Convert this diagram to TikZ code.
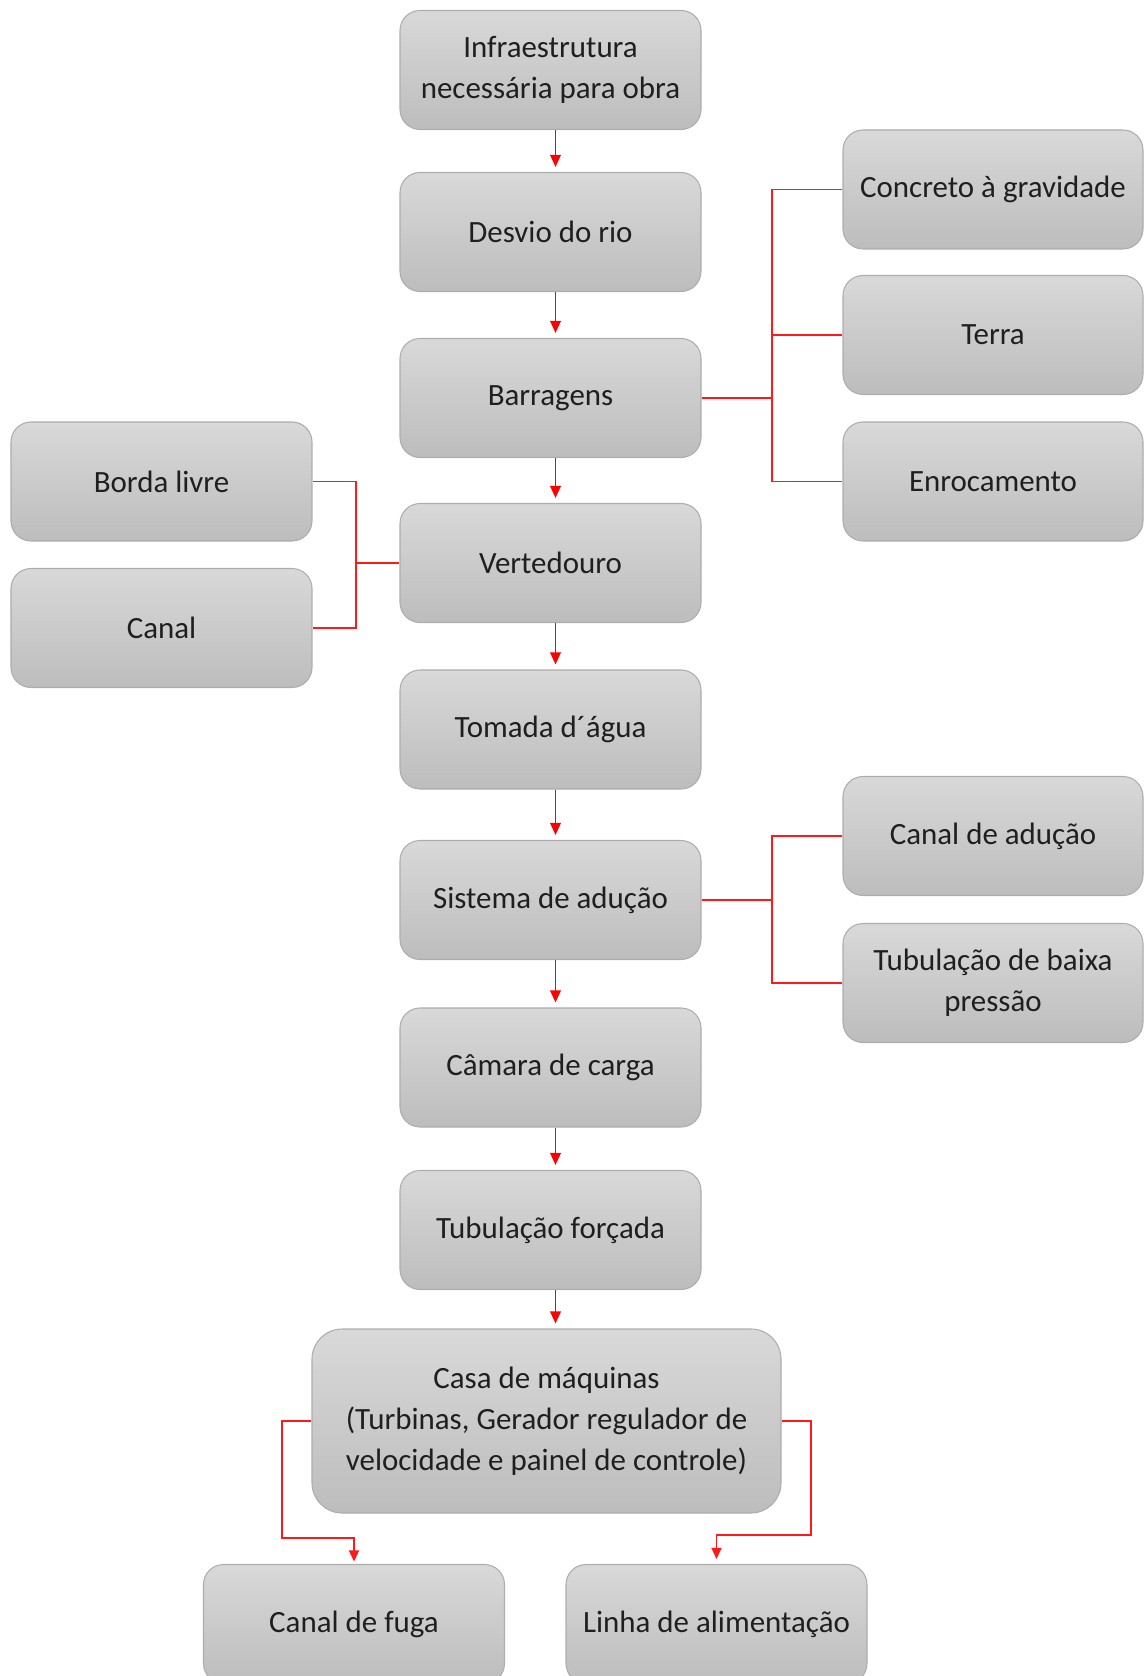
\documentclass[tikz,border=0pt]{standalone}
\usepackage{fontspec}
\setmainfont{Carlito}
\usetikzlibrary{arrows.meta,positioning}

\begin{document}
\begin{tikzpicture}[x=1cm,y=1cm,
    every node/.style={font=\fontsize{17.6}{23.3}\selectfont,text=black!88},
    box/.style={draw=black!32,line width=0.6pt,rounded corners=0.4cm,
      top color=black!15,bottom color=black!26,align=center,
      minimum width=6.02cm,minimum height=2.38cm},
    flow/.style={-{Triangle[length=2.4mm,width=2.1mm]},line width=1.1pt,red,shorten >=0.1cm},
    branch/.style={red!90,line width=0.75pt}]
  \useasboundingbox (0,0) rectangle (22.9,-33.52);

  % Main column
  \node[box] (infra) at (11.01,-1.40) {Infraestrutura\\necessária para obra};
  \node[box] (desvio) at (11.01,-4.64) {Desvio do rio};
  \node[box] (barragens) at (11.01,-7.96) {Barragens};
  \node[box] (vertedouro) at (11.01,-11.26) {Vertedouro};
  \node[box] (tomada) at (11.01,-14.59) {Tomada d´água};
  \node[box] (sistema) at (11.01,-18.00) {Sistema de adução};
  \node[box] (camara) at (11.01,-21.35) {Câmara de carga};
  \node[box] (tubforcada) at (11.01,-24.60) {Tubulação forçada};
  \node[box,rounded corners=0.6cm,minimum width=9.38cm,minimum height=3.68cm]
    (casa) at (10.93,-28.42)
    {Casa de máquinas\\(Turbinas, Gerador regulador de\\velocidade e painel de controle)};

  % Bottom row
  \node[box] (fuga) at (7.08,-32.48) {Canal de fuga};
  \node[box] (linha) at (14.33,-32.48) {Linha de alimentação};

  % Dam types
  \node[box,minimum width=6.0cm] (concreto) at (19.86,-3.79) {Concreto à gravidade};
  \node[box,minimum width=6.0cm] (terra) at (19.86,-6.70) {Terra};
  \node[box,minimum width=6.0cm] (enrocamento) at (19.86,-9.63) {Enrocamento};

  % Adduction types
  \node[box,minimum width=6.0cm] (aducao) at (19.86,-16.72) {Canal de adução};
  \node[box,minimum width=6.0cm] (baixa) at (19.86,-19.66) {Tubulação de baixa\\pressão};

  % Spillway parts
  \node[box] (borda) at (3.23,-9.63) {Borda livre};
  \node[box] (canal) at (3.23,-12.56) {Canal};

  % Main arrows
  \foreach \a/\b in {infra/desvio,desvio/barragens,barragens/vertedouro,
      vertedouro/tomada,tomada/sistema,sistema/camara,camara/tubforcada,tubforcada/casa}
    \draw[flow] ([xshift=1mm]\a.south) -- ([xshift=1mm]\a.south |- \b.north);

  % Brackets
  \coordinate (damfork) at (15.44,0);
  \draw[branch] (barragens.east) -- (barragens.east -| damfork);
  \draw[branch] (concreto.west) -| (damfork |- enrocamento.west) -- (enrocamento.west);
  \draw[branch] (terra.west) -- (terra.west -| damfork);

  \coordinate (spillfork) at (7.12,0);
  \draw[branch] (vertedouro.west) -- (vertedouro.west -| spillfork);
  \draw[branch] (borda.east) -| (spillfork |- canal.east) -- (canal.east);

  \coordinate (adfork) at (15.44,0);
  \draw[branch] (sistema.east) -- (sistema.east -| adfork);
  \draw[branch] (aducao.west) -| (adfork |- baixa.west) -- (baixa.west);

  % Powerhouse outputs
  \coordinate (fugabend) at (5.64,-30.76);
  \coordinate (linhabend) at (16.22,-30.70);
  \draw[branch,-{Triangle[length=2.2mm,width=2mm]},shorten >=0.05cm]
    (casa.west) -| (fugabend) -| (fuga.north);
  \draw[branch,-{Triangle[length=2.2mm,width=2mm]},shorten >=0.1cm]
    (casa.east) -| (linhabend) -| (linha.north);
\end{tikzpicture}
\end{document}
